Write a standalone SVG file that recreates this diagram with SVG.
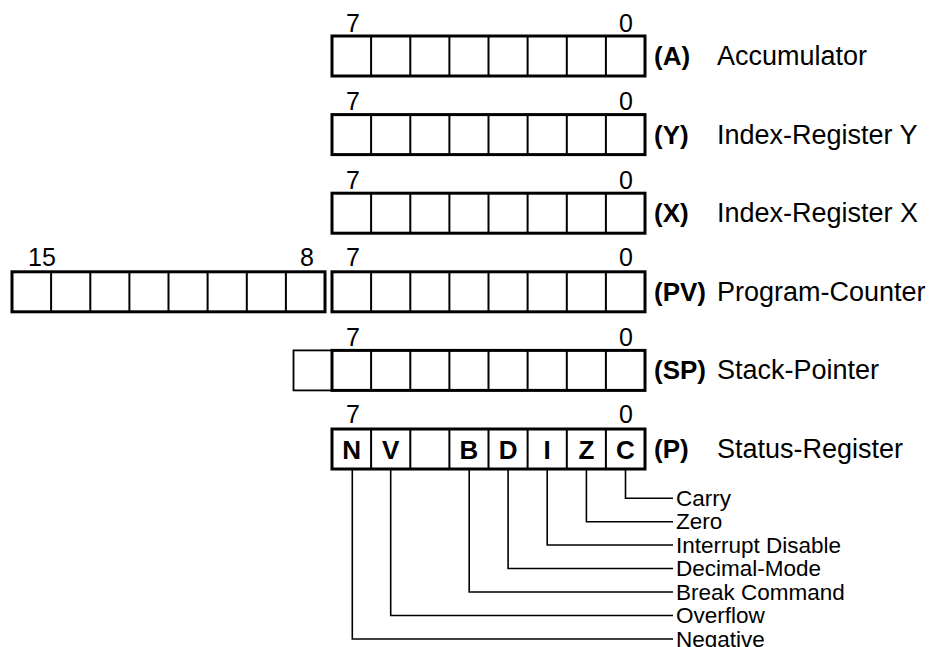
<svg xmlns="http://www.w3.org/2000/svg" width="933" height="647" viewBox="0 0 933 647">
<style>
  .box{fill:#fff;stroke:#000;stroke-width:3}
  .thin{fill:#fff;stroke:#000;stroke-width:1.8}
  .div{stroke:#000;stroke-width:2}
  .lead{fill:none;stroke:#000;stroke-width:1.6}
  text{font-family:"Liberation Sans",Arial,sans-serif;fill:#000}
  .num{font-size:25px;text-anchor:middle}
  .bl{font-size:26px;font-weight:bold}
  .lbl{font-size:27px}
  .bit{font-size:26px;font-weight:bold;text-anchor:middle}
  .flag{font-size:22.5px}
</style>
<defs>
  <g id="reg8">
    <rect class="box" x="0" y="0" width="313" height="40"/>
    <path class="div" d="M39.1 0V40M78.3 0V40M117.4 0V40M156.5 0V40M195.6 0V40M234.8 0V40M273.9 0V40"/>
  </g>
</defs>

<g id="reg-A">
  <text class="num" x="353" y="31.5">7</text>
  <text class="num" x="626" y="31.5">0</text>
  <use href="#reg8" x="332" y="36"/>
  <text class="bl" x="654" y="65">(A)</text>
  <text class="lbl" x="717" y="65">Accumulator</text>
</g>

<g id="reg-Y">
  <text class="num" x="353" y="110">7</text>
  <text class="num" x="626" y="110">0</text>
  <use href="#reg8" x="332" y="114.6"/>
  <text class="bl" x="654" y="143.6">(Y)</text>
  <text class="lbl" x="717" y="143.6">Index-Register Y</text>
</g>

<g id="reg-X">
  <text class="num" x="353" y="188.7">7</text>
  <text class="num" x="626" y="188.7">0</text>
  <use href="#reg8" x="332" y="193.2"/>
  <text class="bl" x="654" y="222.2">(X)</text>
  <text class="lbl" x="717" y="222.2">Index-Register X</text>
</g>

<g id="reg-PC">
  <text class="num" x="42" y="266">15</text>
  <text class="num" x="307" y="266">8</text>
  <text class="num" x="353" y="266">7</text>
  <text class="num" x="626" y="266">0</text>
  <use href="#reg8" x="12" y="271.8"/>
  <use href="#reg8" x="332" y="271.8"/>
  <text class="bl" x="654" y="300.8">(PV)</text>
  <text class="lbl" x="717" y="300.8">Program-Counter</text>
</g>

<g id="reg-SP">
  <text class="num" x="353" y="345.5">7</text>
  <text class="num" x="626" y="345.5">0</text>
  <rect class="thin" x="293.5" y="350.4" width="38.5" height="40"/>
  <use href="#reg8" x="332" y="350.4"/>
  <text class="bl" x="654" y="379.4">(SP)</text>
  <text class="lbl" x="717" y="379.4">Stack-Pointer</text>
</g>

<g id="reg-P">
  <text class="num" x="353" y="423">7</text>
  <text class="num" x="626" y="423">0</text>
  <use href="#reg8" x="332" y="429"/>
  <text class="bit" x="351.6" y="459">N</text>
  <text class="bit" x="390.7" y="459">V</text>
  <text class="bit" x="469" y="459">B</text>
  <text class="bit" x="508.1" y="459">D</text>
  <text class="bit" x="547.2" y="459">I</text>
  <text class="bit" x="586.4" y="459">Z</text>
  <text class="bit" x="625.5" y="459">C</text>
  <text class="bl" x="654" y="458">(P)</text>
  <text class="lbl" x="717" y="458">Status-Register</text>
</g>

<g id="connectors">
  <path class="lead" d="M625.5 469V498.3H673"/>
  <path class="lead" d="M586.4 469V521.7H673"/>
  <path class="lead" d="M547.2 469V545H673"/>
  <path class="lead" d="M508.1 469V568.5H673"/>
  <path class="lead" d="M469.2 469V592H673"/>
  <path class="lead" d="M390.7 469V615.5H673"/>
  <path class="lead" d="M352.3 469V639H673"/>
</g>

<g id="flag-labels">
  <text class="flag" x="676" y="505.5">Carry</text>
  <text class="flag" x="676" y="529">Zero</text>
  <text class="flag" x="676" y="552.5">Interrupt Disable</text>
  <text class="flag" x="676" y="576">Decimal-Mode</text>
  <text class="flag" x="676" y="599.5">Break Command</text>
  <text class="flag" x="676" y="623">Overflow</text>
  <text class="flag" x="676" y="646.5">Negative</text>
</g>
</svg>
